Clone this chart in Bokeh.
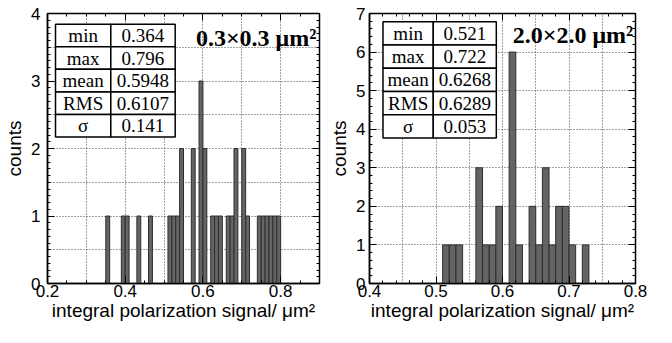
from bokeh.plotting import figure
from bokeh.models import SingleIntervalTicker, LinearAxis, Label, Range1d, CustomJSTickFormatter
from bokeh.layouts import row
from bokeh.embed import file_html
from bokeh.resources import INLINE
from bokeh.core.properties import value

# ---------------- data ----------------
BIN = 0.01
left_bins = [0.35, 0.39, 0.40, 0.43, 0.46, 0.51, 0.52, 0.53, 0.54, 0.57, 0.59, 0.60,
             0.62, 0.63, 0.64, 0.66, 0.67, 0.68, 0.70, 0.71,
             0.74, 0.75, 0.76, 0.77, 0.78, 0.79]
left_counts = [1, 1, 1, 1, 1, 1, 1, 1, 2, 2, 3, 2,
               1, 1, 1, 1, 1, 2, 2, 1,
               1, 1, 1, 1, 1, 1]
right_bins = [0.51, 0.52, 0.53, 0.56, 0.57, 0.58, 0.59, 0.61, 0.62,
              0.64, 0.65, 0.66, 0.67, 0.68, 0.69, 0.70, 0.72]
right_counts = [1, 1, 1, 3, 1, 1, 2, 6, 1,
                2, 1, 3, 1, 2, 2, 1, 1]

stat_names = ["min", "max", "mean", "RMS", "σ"]
left_stats = ["0.364", "0.796", "0.5948", "0.6107", "0.141"]
right_stats = ["0.521", "0.722", "0.6268", "0.6289", "0.053"]
left_title = "0.3×0.3 μm²"
right_title = "2.0×2.0 μm²"
x_label = "integral polarization signal/ μm²"
y_label = "counts"

SANS = "Liberation Sans"
SERIF = "Liberation Serif"


def make_panel(bins, counts, xr, yr, xtick, xminor, ytick, yminor, xgrid, ygrid,
               width, height, borders, table, stats, title, title_xy, ystand):
    bl, br, bt, bb = borders
    p = figure(width=width, height=height, x_range=Range1d(*xr), y_range=Range1d(*yr),
               output_backend="svg", toolbar_location=None,
               min_border_left=bl, min_border_right=br, min_border_top=bt,
               min_border_bottom=bb, background_fill_color="white",
               border_fill_color="white")
    p.outline_line_color = "black"
    p.outline_line_width = 1.5

    # grid
    p.xgrid.ticker = SingleIntervalTicker(interval=xgrid)
    p.ygrid.ticker = SingleIntervalTicker(interval=ygrid)
    p.grid.grid_line_color = "#444444"
    p.grid.grid_line_dash = "1 2"
    p.grid.grid_line_width = 1

    # bars
    p.quad(left=bins, right=[b + BIN for b in bins], bottom=0, top=counts,
           fill_color="#646464", line_color="#2e2e2e", line_width=1)

    # axes
    xt = SingleIntervalTicker(interval=xtick, num_minor_ticks=xminor)
    yt = SingleIntervalTicker(interval=ytick, num_minor_ticks=yminor)
    p.xaxis.ticker = xt
    p.yaxis.ticker = yt
    for ax in (p.xaxis[0], p.yaxis[0]):
        ax.axis_line_color = "black"
        ax.axis_line_width = 1.5
        ax.major_tick_in = 7
        ax.major_tick_out = 0
        ax.minor_tick_in = 3
        ax.minor_tick_out = 0
        ax.major_tick_line_color = "black"
        ax.minor_tick_line_color = "black"
        ax.major_label_text_font = SANS
        ax.major_label_text_font_size = "17px"
        ax.major_label_text_color = "black"
        ax.axis_label_text_font = SANS
        ax.axis_label_text_font_size = "19px"
        ax.axis_label_text_font_style = "normal"
        ax.axis_label_text_color = "black"
    p.xaxis.axis_label = x_label
    p.yaxis.axis_label = y_label
    p.xaxis.major_label_standoff = 1
    p.xaxis.axis_label_standoff = 0
    p.yaxis.major_label_standoff = ystand
    p.yaxis.axis_label_standoff = 3

    # mirrored ticks on top and right (no labels)
    for loc, tk in (("above", xt), ("right", yt)):
        ax = LinearAxis(ticker=tk, formatter=CustomJSTickFormatter(code="return ''"),
                        major_label_standoff=0, major_tick_in=7, major_tick_out=0,
                        minor_tick_in=3, minor_tick_out=0, axis_line_color="black",
                        major_tick_line_color="black", minor_tick_line_color="black")
        p.add_layout(ax, loc)

    # statistics table
    x0, xd, x1, ytop, ybot = table
    h = (ytop - ybot) / len(stat_names)
    tops = [ytop - i * h for i in range(len(stat_names))]
    bots = [t - h for t in tops]
    p.quad(left=x0, right=xd, top=tops, bottom=bots, fill_color="white",
           line_color="black", line_width=1.5)
    p.quad(left=xd, right=x1, top=tops, bottom=bots, fill_color="white",
           line_color="black", line_width=1.5)
    mids = [t - h / 2 for t in tops]
    p.text(x=[(x0 + xd) / 2] * len(stat_names), y=mids, text=stat_names,
           text_font=value(SERIF), text_font_size=value("19px"),
           text_align="center", text_baseline="middle", text_color="black")
    p.text(x=[(xd + x1) / 2] * len(stats), y=mids, text=stats,
           text_font=value(SERIF), text_font_size=value("19px"),
           text_align="center", text_baseline="middle", text_color="black")

    # title
    p.add_layout(Label(x=title_xy[0], y=title_xy[1], text=title, text_font=SERIF,
                       text_font_style="bold", text_font_size="24px",
                       text_align="center", text_baseline="middle",
                       text_color="black"))
    return p


p1 = make_panel(left_bins, left_counts, (0.2, 0.9), (0, 4), 0.2, 4, 1, 10, 0.1, 0.5,
                326, 327, (47, 7, 8, 44),
                (0.2206, 0.3629, 0.5286, 3.842, 2.170), left_stats,
                left_title, (0.737, 3.63), 7)
p2 = make_panel(right_bins, right_counts, (0.4, 0.8), (0, 7), 0.1, 5, 1, 5, 0.05, 1,
                330, 327, (39, 21, 13, 44),
                (0.4203, 0.4959, 0.5907, 6.783, 3.775), right_stats,
                right_title, (0.706, 6.45), 4)

layout = row(p1, p2)
open("out.html", "w").write(file_html(layout, INLINE))
